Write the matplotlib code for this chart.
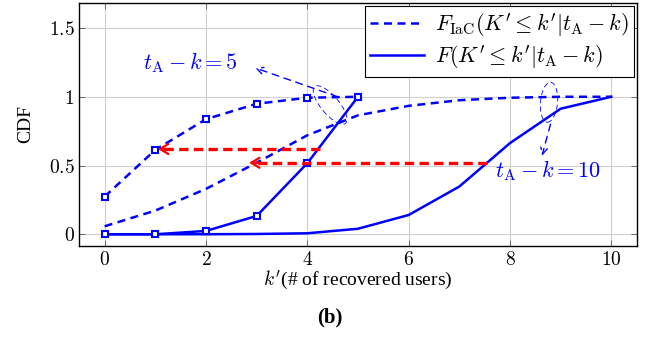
import matplotlib
matplotlib.use("Agg")
import matplotlib.pyplot as plt
from matplotlib.patches import Ellipse
from matplotlib.transforms import ScaledTranslation
from matplotlib.lines import Line2D

plt.rcParams['font.family'] = 'Liberation Serif'
plt.rcParams['mathtext.fontset'] = 'cm'

# data
k5 = [0, 1, 2, 3, 4, 5]
iac5 = [0.274, 0.614, 0.837, 0.949, 0.993, 1.0]
cdf5 = [0.0, 0.0, 0.024, 0.133, 0.517, 1.0]

k10 = [0, 1, 2, 3, 4, 5, 6, 7, 8, 9, 10]
iac10 = [0.058, 0.172, 0.33, 0.52, 0.72, 0.865, 0.934, 0.975, 0.993, 1.0, 1.0]
cdf10 = [0.0, 0.0, 0.0, 0.002, 0.007, 0.04, 0.14, 0.347, 0.663, 0.913, 1.0]

# red arrows: (y, x_start, x_end)
red_arrows = [(0.62, 4.25, 1.05), (0.52, 7.55, 2.85)]

xticks = [0, 2, 4, 6, 8, 10]
yticks = [0, 0.5, 1, 1.5]
ytick_labels = ['0', '0.5', '1', '1.5']

fig = plt.figure(figsize=(6.47, 3.46), dpi=100)
ax = fig.add_axes([0.1226, 0.29, 0.8614, 0.7005])

blue = (0, 0, 1)
red = (1, 0, 0)
dash = (0, (3.2, 2.2))

ax.plot(k10, iac10, color=blue, lw=1.8, linestyle=dash)
ax.plot(k10, cdf10, color=blue, lw=1.8)
ax.plot(k5, iac5, color=blue, lw=1.8, linestyle=dash, marker='s', ms=5,
        mfc='white', mec=blue, mew=1.5)
ax.plot(k5, cdf5, color=blue, lw=1.8, marker='s', ms=5,
        mfc='white', mec=blue, mew=1.5)

for y, x0, x1 in red_arrows:
    ax.plot([x0, x1 + 0.1], [y, y], color=red, lw=2.4, linestyle=(0, (2.8, 1.6)))
    ax.annotate('', xy=(x1, y), xytext=(x1 + 0.25, y),
                arrowprops=dict(arrowstyle='->,head_length=0.5,head_width=0.3',
                                color=red, lw=1.6,
                                mutation_scale=12, shrinkA=0, shrinkB=0))

# annotations
ax.text(0.75, 1.25, r'$t_{\mathrm{A}}-k=5$', color=blue, fontsize=16,
        ha='left', va='center')
ax.text(7.7, 0.46, r'$t_{\mathrm{A}}-k=10$', color=blue, fontsize=16,
        ha='left', va='center')

ax.annotate('', xy=(2.97, 1.21), xytext=(4.6, 1.0),
            arrowprops=dict(arrowstyle='->', color=blue, lw=1.0,
                            linestyle=(0, (5, 4)), mutation_scale=12,
                            shrinkA=0, shrinkB=0))
ax.annotate('', xy=(8.63, 0.57), xytext=(8.8, 0.8),
            arrowprops=dict(arrowstyle='->', color=blue, lw=1.0,
                            linestyle=(0, (5, 4)), mutation_scale=12,
                            shrinkA=0, shrinkB=0))

for cx, cy, w, h, ang in [(4.45, 0.94, 0.48, 0.18, -50), (8.77, 0.96, 0.17, 0.40, -5)]:
    e = Ellipse((0, 0), w, h, angle=ang, fill=False, edgecolor=blue, lw=0.6,
                linestyle=(0, (6, 4)),
                transform=fig.dpi_scale_trans + ScaledTranslation(cx, cy, ax.transData))
    ax.add_patch(e)

ax.set_xlim(-0.5, 10.5)
ax.set_ylim(-0.083, 1.68)
ax.set_xticks(xticks)
ax.set_xticklabels([f'${v}$' for v in xticks], fontsize=14)
ax.set_yticks(yticks)
ax.set_yticklabels([f'${v}$' for v in ytick_labels], fontsize=14)
ax.tick_params(direction='in', top=True, right=True, length=4, width=0.6,
               colors='#555555', labelcolor='black')
ax.grid(True, color='#d0d0d0', lw=0.8)
ax.set_axisbelow(True)
for s in ax.spines.values():
    s.set_linewidth(1.0)

ax.set_xlabel(r"$k'$(# of recovered users)", fontsize=14, labelpad=0)
ax.set_ylabel('CDF', fontsize=14, labelpad=10)

handles = [Line2D([], [], color=blue, lw=1.8, linestyle=dash),
           Line2D([], [], color=blue, lw=1.8)]
labels = [r"$F_{\mathrm{IaC}}(K'\leq k'|t_{\mathrm{A}}-k)$",
          r"$F(K'\leq k'|t_{\mathrm{A}}-k)$"]
leg = ax.legend(handles, labels, loc='upper right', fontsize=16, fancybox=False,
                edgecolor='black', framealpha=1, handlelength=2.4,
                borderaxespad=0.12, labelspacing=0.2, borderpad=0.25,
                handletextpad=0.5)
leg.get_frame().set_linewidth(0.8)

fig.text(0.51, 0.083, '(b)', fontsize=15, fontweight='bold', ha='center', va='center')

fig.savefig('out.png', dpi=100)
